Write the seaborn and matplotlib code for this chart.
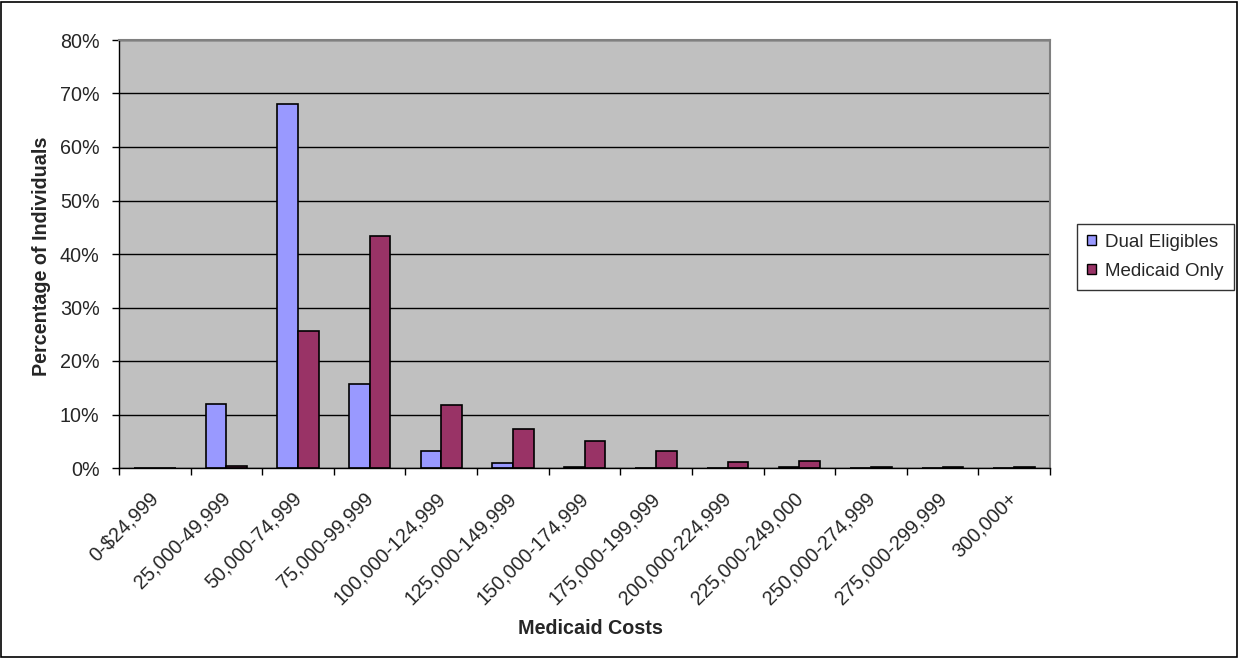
import numpy as np
import pandas as pd
import matplotlib
matplotlib.use("Agg")
import matplotlib.pyplot as plt
import matplotlib.transforms as mtransforms
from matplotlib.ticker import FuncFormatter, FixedLocator
from matplotlib.patches import Rectangle
import seaborn as sns

categories = ["0-$24,999", "25,000-49,999", "50,000-74,999", "75,000-99,999",
              "100,000-124,999", "125,000-149,999", "150,000-174,999",
              "175,000-199,999", "200,000-224,999", "225,000-249,000",
              "250,000-274,999", "275,000-299,999", "300,000+"]
dual_eligibles = [0.0, 12.0, 68.0, 15.7, 3.2, 0.9, 0.2, 0.0, 0.0, 0.2, 0.0, 0.0, 0.0]
medicaid_only = [0.0, 0.3, 25.7, 43.3, 11.7, 7.2, 5.1, 3.1, 1.1, 1.4, 0.2, 0.2, 0.2]
series_names = ["Dual Eligibles", "Medicaid Only"]
colors = ["#9999FF", "#993366"]

df = pd.DataFrame({
    "cost": categories * 2,
    "pct": dual_eligibles + medicaid_only,
    "group": [series_names[0]] * len(categories) + [series_names[1]] * len(categories),
})

sns.set_style("white")
plt.rcParams["font.family"] = ["Liberation Sans", "DejaVu Sans"]
FS = 14.2
LEG_FS = 13.5

fig = plt.figure(figsize=(12.39, 6.58), dpi=100)
ax = fig.add_axes([119 / 1239, 1 - 468 / 658, (1050 - 119) / 1239, (468 - 40) / 658])
ax.set_facecolor("#C0C0C0")

sns.barplot(data=df, x="cost", y="pct", hue="group", order=categories,
            hue_order=series_names, palette=colors, width=0.58, gap=0,
            edgecolor="black", linewidth=1.2, saturation=1, ax=ax, legend=True)

ax.set_ylim(0, 80)
ax.set_xlim(-0.5, len(categories) - 0.5)
ax.set_yticks(np.arange(0, 81, 10))
ax.yaxis.set_major_formatter(FuncFormatter(lambda v, p: f"{int(v)}%"))
ax.yaxis.grid(True, color="black", linewidth=1)
ax.xaxis.grid(False)
ax.set_axisbelow(True)

for side in ["top", "right"]:
    ax.spines[side].set_color("#808080")
    ax.spines[side].set_linewidth(1.5)
for side in ["left", "bottom"]:
    ax.spines[side].set_color("black")
    ax.spines[side].set_linewidth(1)

ax.tick_params(axis="y", which="major", direction="out", length=5, width=1,
               color="black", labelsize=FS, pad=9, left=True)
ax.set_xticks(range(len(categories)))
ax.set_xticklabels(categories, rotation=45, ha="right", rotation_mode="anchor",
                   fontsize=FS)
ax.tick_params(axis="x", which="major", length=0, pad=15)
ax.xaxis.set_minor_locator(FixedLocator(np.arange(-0.5, len(categories), 1.0)))
ax.tick_params(axis="x", which="minor", direction="out", length=5, width=1,
               color="black", bottom=True)

# nudge the rotated category labels slightly left
shift = mtransforms.ScaledTranslation(-6 / 100, 0, fig.dpi_scale_trans)
for lbl in ax.get_xticklabels():
    lbl.set_transform(lbl.get_transform() + shift)

ax.set_xlabel("Medicaid Costs", fontsize=FS, fontweight="bold")
ax.xaxis.set_label_coords((590 - 119) / (1050 - 119), -(628 - 468) / (468 - 40))
ax.xaxis.label.set_va("center")
ax.set_ylabel("Percentage of Individuals", fontsize=FS, fontweight="bold")
ax.yaxis.set_label_coords(-(119 - 42) / (1050 - 119), (468 - 256) / (468 - 40))
ax.yaxis.label.set_va("center")

leg = ax.legend(loc="center left", bbox_to_anchor=(1077 / 1239, 1 - 257 / 658),
                bbox_transform=fig.transFigure, frameon=True, fancybox=False,
                edgecolor="black", fontsize=LEG_FS, handlelength=0.45,
                handleheight=0.45, handletextpad=0.5, borderpad=0.55,
                labelspacing=0.65, borderaxespad=0)
leg.get_frame().set_linewidth(1)
for h in leg.legend_handles:
    h.set_edgecolor("black")
    h.set_linewidth(1)

fig.patches.append(Rectangle((1 / 1239, 1 / 658), 1 - 3 / 1239, 1 - 3 / 658,
                             transform=fig.transFigure, fill=False,
                             edgecolor="black", linewidth=1.2))

fig.savefig("out.png", dpi=100, facecolor="white")
